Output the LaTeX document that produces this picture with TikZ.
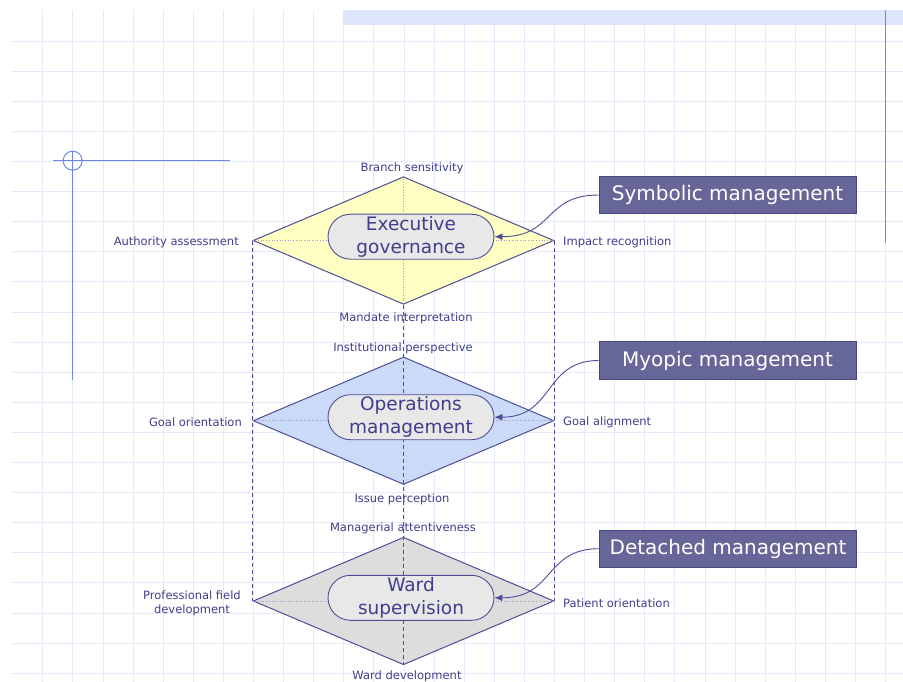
\documentclass[tikz,border=0pt]{standalone}
\usepackage{fontspec}
\setmainfont{DejaVu Sans}
\usetikzlibrary{shapes.geometric,shapes.misc,arrows.meta,calc}

\definecolor{ink}{RGB}{62,62,140}
\definecolor{edge}{RGB}{78,78,150}
\definecolor{gridc}{RGB}{228,234,250}
\definecolor{bandc}{RGB}{221,230,250}
\definecolor{accent}{RGB}{110,134,232}
\definecolor{fillY}{RGB}{255,255,196}
\definecolor{fillB}{RGB}{204,218,250}
\definecolor{fillG}{RGB}{221,221,221}
\definecolor{pill}{RGB}{232,232,232}
\definecolor{tagfill}{RGB}{102,102,153}
\definecolor{tagedge}{RGB}{70,70,130}

\begin{document}
\begin{tikzpicture}[x=1pt,y=-1pt,
  level/.style={diamond,draw=edge,line width=1pt,inner sep=0pt,
    minimum width=300.7pt,minimum height=127.5pt},
  pillbox/.style={rounded rectangle,draw=edge,line width=0.9pt,fill=pill,
    minimum width=166pt,minimum height=45pt,inner sep=0pt,text=ink,
    align=center,font=\fontsize{18.5}{23}\selectfont},
  tag/.style={rectangle,draw=tagedge,line width=0.8pt,fill=tagfill,text=white,
    minimum width=257pt,minimum height=37.5pt,inner sep=0pt,
    font=\fontsize{20}{24}\selectfont},
  lbl/.style={text=ink,inner sep=0pt,font=\fontsize{11.5}{14}\selectfont},
  axis/.style={dotted,draw=edge!55,line width=0.7pt},
  guide/.style={draw=edge,line width=0.8pt,dash pattern=on 4pt off 3pt},
  pointer/.style={draw=edge,line width=0.9pt,-{Latex[length=8pt,width=7pt]}},
  rule/.style={draw=accent,line width=1pt}
]
\useasboundingbox (0,0) rectangle (903,682);
\fill[white] (0,0) rectangle (903,682);

% background grid
\foreach \i in {0,...,28}
  \draw[gridc,line width=0.8pt] ({42.7+30.1*\i},10) -- ({42.7+30.1*\i},682);
\foreach \j in {0,...,21}
  \draw[gridc,line width=0.8pt] (12,{41+30.1*\j}) -- (903,{41+30.1*\j});

% top band and frame rules
\fill[bandc] (343,10) rectangle (903,25);
\draw[rule] (885.5,10) -- (885.5,243);
\draw[rule] (53,160.7) -- (230,160.7);
\draw[rule] (72.7,151) -- (72.7,380);
\draw[rule] (72.7,160.7) circle[radius=9.5];

% the three levels
\node[level,fill=fillY] (d1) at (403.5,240.5) {};
\node[level,fill=fillB] (d2) at (403.5,420.7) {};
\node[level,fill=fillG] (d3) at (403.5,601) {};

\draw[axis] (d1.west) -- (d1.east);
\draw[axis] (d1.north) -- (d1.south);
\draw[axis] (d2.west) -- (d2.east);
\draw[axis] (d3.west) -- (d3.east);

\draw[guide] (d1.west) -- (d3.west);
\draw[guide] (d1.east) -- (d3.east);
\draw[guide] (d1.south) -- (d3.south);

% level titles
\node[pillbox] (p1) at (411,236.7) {Executive\\governance};
\node[pillbox] (p2) at (411,417.2) {Operations\\management};
\node[pillbox] (p3) at (411,597.8) {Ward\\supervision};

% corner labels
\node[lbl] (b1) at (412,168) {Branch sensitivity};
\node[lbl,anchor=east] (l1) at (239,242) {Authority assessment};
\node[lbl,anchor=west] (r1) at (563,242) {Impact recognition};
\node[lbl] (s1) at (406,318) {Mandate interpretation};

\node[lbl] (b2) at (403,348) {Institutional perspective};
\node[lbl,anchor=east] (l2) at (242,422) {Goal orientation};
\node[lbl,anchor=west] (r2) at (563,422) {Goal alignment};
\node[lbl] (s2) at (402,499) {Issue perception};

\node[lbl] (b3) at (403,528) {Managerial attentiveness};
\node[lbl,align=center] (l3) at (192,603) {Professional field\\development};
\node[lbl,anchor=west] (r3) at (563,603) {Patient orientation};
\node[lbl] (s3) at (407,676) {Ward development};

% management styles
\node[tag] (t1) at (727.5,195) {Symbolic management};
\node[tag] (t2) at (727.5,360.5) {Myopic management};
\node[tag] (t3) at (728,548.7) {Detached management};

\draw[pointer] (t1.west) .. controls +(-55,0) and +(60,0) .. (p1.east);
\draw[pointer] (t2.west) .. controls +(-55,0) and +(60,0) .. (p2.east);
\draw[pointer] (t3.west) .. controls +(-55,0) and +(60,0) .. (p3.east);
\end{tikzpicture}
\end{document}
